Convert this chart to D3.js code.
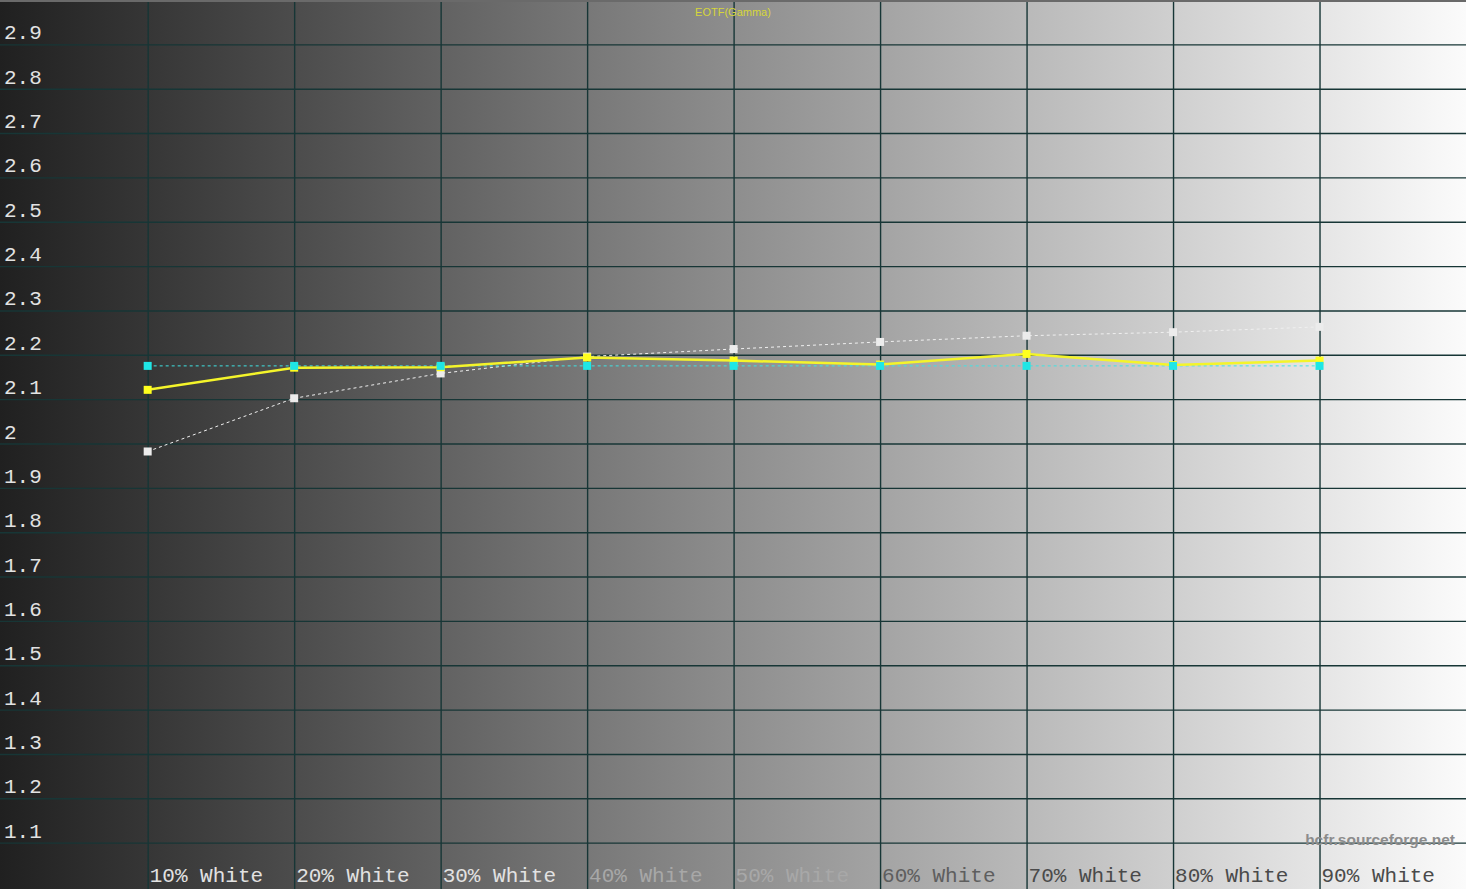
<!DOCTYPE html>
<html lang="en">
<head>
    <meta charset="UTF-8">
    <title>EOTF(Gamma)</title>
    <script src="https://d3js.org/d3.v7.min.js"></script>
    <style>
        body { margin: 0; background: #fff; }
        .grid line { stroke: #173636; stroke-width: 1.4; }
        .grid path { display: none; }
        .ylab text { font-family: "Liberation Mono", "DejaVu Sans Mono", monospace; font-size: 21px; fill: #e2e2e2; }
        .xlab { font-family: "Liberation Mono", "DejaVu Sans Mono", monospace; font-size: 21px; }
    </style>
</head>
<body>
<script>
    // categories along the bottom
    const categories = ["10% White", "20% White", "30% White", "40% White", "50% White",
                        "60% White", "70% White", "80% White", "90% White"];
    // y tick values and labels
    const yTicks = [1.1, 1.2, 1.3, 1.4, 1.5, 1.6, 1.7, 1.8, 1.9, 2.0, 2.1, 2.2, 2.3, 2.4, 2.5, 2.6, 2.7, 2.8, 2.9];
    const yTickLabels = ["1.1", "1.2", "1.3", "1.4", "1.5", "1.6", "1.7", "1.8", "1.9", "2",
                         "2.1", "2.2", "2.3", "2.4", "2.5", "2.6", "2.7", "2.8", "2.9"];
    // measured gamma (yellow)
    const measured = [2.121, 2.171, 2.172, 2.194, 2.187, 2.178, 2.202, 2.177, 2.187];
    // reference curve (grey dotted)
    const reference = [1.982, 2.102, 2.158, 2.196, 2.213, 2.229, 2.243, 2.251, 2.263];
    // target gamma (cyan dotted)
    const target = [2.175, 2.175, 2.175, 2.175, 2.175, 2.175, 2.175, 2.175, 2.175];

    const W = 1466, H = 889;

    const svg = d3.select("body").append("svg")
        .attr("width", W)
        .attr("height", H);

    // background gradient, dark to light
    const grad = svg.append("defs").append("linearGradient")
        .attr("id", "bg").attr("x1", "0").attr("x2", "1").attr("y1", "0").attr("y2", "0");
    grad.append("stop").attr("offset", "0").attr("stop-color", "#202020");
    grad.append("stop").attr("offset", "1").attr("stop-color", "#fbfbfb");
    svg.append("rect").attr("width", W).attr("height", H).attr("fill", "url(#bg)");

    // scales
    const x = d3.scaleLinear().domain([0, 10]).range([1.2, W]);
    const y = d3.scaleLinear().domain([1.0, 3.0]).range([887, 0]);

    // horizontal grid + y labels
    const yAxis = svg.append("g")
        .attr("class", "grid ylab")
        .call(d3.axisRight(y).tickValues(yTicks).tickSize(W)
            .tickFormat((d, i) => yTickLabels[i]));
    yAxis.selectAll("text")
        .attr("x", 4)
        .attr("dy", 0)
        .attr("y", -5.5)
        .attr("text-anchor", "start");

    // vertical grid
    svg.append("g")
        .attr("class", "grid")
        .call(d3.axisBottom(x).tickValues(d3.range(1, 10)).tickSize(H).tickFormat(""));

    // top border
    svg.append("line").attr("x1", 0).attr("x2", W).attr("y1", 1).attr("y2", 1)
        .attr("stroke", "#6a6a6a").attr("stroke-width", 2);

    // x labels
    const labelColor = i => i < 3 ? "#e2e2e2" : (i < 5 ? "#a8a8a8" : (i < 6 ? "#5e5e5e" : "#4a4a4a"));
    svg.selectAll(".xlab")
        .data(categories)
        .enter().append("text")
        .attr("class", "xlab")
        .attr("x", (d, i) => x(i + 1) + 2)
        .attr("y", 882)
        .attr("fill", (d, i) => labelColor(i))
        .text(d => d);

    // title
    svg.append("text")
        .attr("x", 733)
        .attr("y", 16)
        .attr("text-anchor", "middle")
        .attr("font-family", "Liberation Sans, Arial, sans-serif")
        .attr("font-size", 11)
        .attr("fill", "#d6d63a")
        .text("EOTF(Gamma)");

    // watermark
    svg.append("text")
        .attr("x", 1455)
        .attr("y", 845)
        .attr("text-anchor", "end")
        .attr("font-family", "Liberation Sans, Arial, sans-serif")
        .attr("font-weight", "bold")
        .attr("font-size", 15.5)
        .attr("fill", "#8c8c8c")
        .text("hcfr.sourceforge.net");

    const line = d3.line()
        .x((d, i) => x(i + 1))
        .y(d => y(d));

    function markers(data, color, size) {
        svg.append("g").selectAll("rect")
            .data(data)
            .enter().append("rect")
            .attr("x", (d, i) => x(i + 1) - size / 2)
            .attr("y", d => y(d) - size / 2)
            .attr("width", size)
            .attr("height", size)
            .attr("fill", color);
    }

    // reference (grey dotted)
    svg.append("path")
        .datum(reference)
        .attr("d", line)
        .attr("fill", "none")
        .attr("stroke", "#f0f0f0")
        .attr("stroke-width", 1)
        .attr("stroke-dasharray", "3,3");
    markers(reference, "#ececec", 8);

    // target (cyan dotted)
    svg.append("path")
        .datum(target)
        .attr("d", line)
        .attr("fill", "none")
        .attr("stroke", "#3fe3e3")
        .attr("stroke-width", 1)
        .attr("stroke-dasharray", "3,3");

    // measured (yellow)
    svg.append("path")
        .datum(measured)
        .attr("d", line)
        .attr("fill", "none")
        .attr("stroke", "#f4f42a")
        .attr("stroke-width", 2.5);
    markers(measured, "#ffff1e", 8);

    markers(target, "#1fe6e6", 8);
</script>
</body>
</html>
